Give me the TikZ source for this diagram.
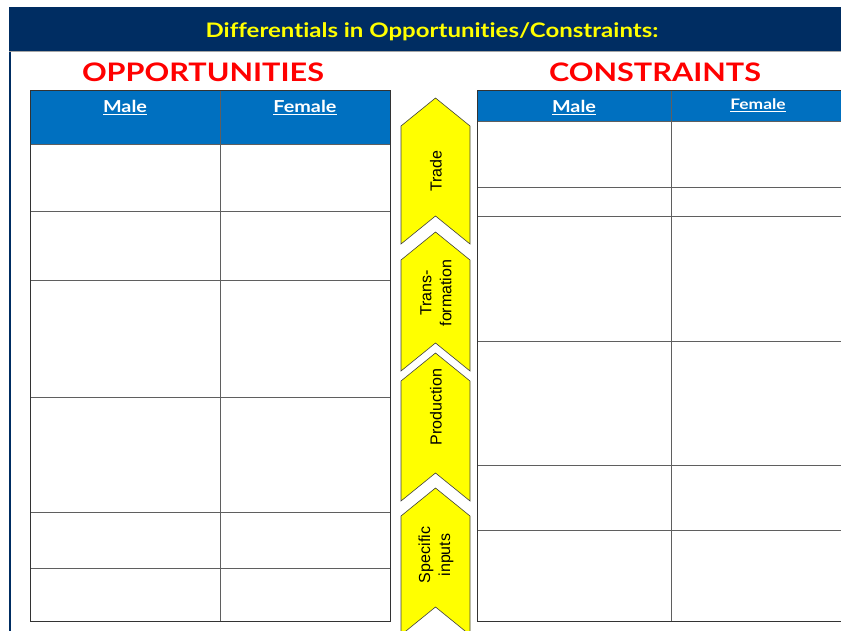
\documentclass[tikz,border=0pt]{standalone}
\usepackage{fontspec}
\setmainfont{Lato}
\newfontfamily\gillish[FakeStretch=1.2, Ligatures=NoCommon]{Lato}
\newfontfamily\arialfont{Liberation Sans}
\usetikzlibrary{positioning}

\definecolor{bandnavy}{RGB}{0,45,98}
\definecolor{hdrblue}{RGB}{0,112,192}
\definecolor{chevyellow}{RGB}{255,255,0}
\definecolor{gridgray}{RGB}{95,95,95}

\begin{document}
\begin{tikzpicture}[
        x=1pt, y=-1pt,
        title/.style={text=chevyellow, font=\gillish\bfseries\fontsize{20}{24}\selectfont},
        side/.style={text=red, font=\gillish\bfseries\fontsize{25.5}{28}\selectfont},
        hdr/.style={text=white, font=\gillish\bfseries\fontsize{16.5}{18}\selectfont},
        grid/.style={draw=gridgray, line width=1pt},
        chevron/.style={fill=chevyellow, draw=black!75, line width=0.6pt},
        steplabel/.style={rotate=90, align=center, font=\arialfont\fontsize{16}{20}\selectfont}
    ]
    \useasboundingbox (0,0) rectangle (841,631);
    \clip (0,0) rectangle (841,631);

    % Frame
    \fill[bandnavy] (9,7) rectangle (845,51);
    \draw[gray!70, line width=1pt] (9,51.5) -- (845,51.5);
    \draw[bandnavy, line width=1.5pt] (10,52) -- (10,640);
    \node[title] (title) at (432,32) {Differentials in Opportunities/Constraints:};

    % Headings
    \node[side] (opp) at (203,72) {OPPORTUNITIES};
    \node[side] (con) at (655,72) {CONSTRAINTS};

    % Opportunities table
    \fill[hdrblue] (30,91) rectangle (390,145);
    \foreach \y in {145,212,281,397,512,568}
        \draw[grid] (30,\y) -- (390,\y);
    \draw[grid] (220,91) -- (220,621);
    \draw[grid, draw=black!80] (30,91) rectangle (390,621);
    \node[hdr] (oppmale) at (125,107.5) {\underline{Male}};
    \node[hdr] (oppfemale) at (305,107.5) {\underline{Female}};

    % Constraints table
    \fill[hdrblue] (477,91) rectangle (845,122);
    \foreach \y in {122,188,217,341,465,530}
        \draw[grid] (477,\y) -- (845,\y);
    \draw[grid] (671,91) -- (671,621);
    \draw[grid, draw=black!80] (845,91) -- (477,91) -- (477,621) -- (845,621);
    \node[hdr] (conmale) at (574,107.5) {\underline{Male}};
    \node[hdr, font=\gillish\bfseries\fontsize{14.5}{16}\selectfont] (confemale) at (758,105) {\underline{Female}};

    % Chevrons
    \foreach \a/\n/\t/\nm/\txt in {98/216/171/trade/Trade, 232/343/293/trans/{Trans-\\formation},
                                   353/473/407/prod/Production, 488/607/555/spec/{Specific\\inputs}} {
        \filldraw[chevron] (401,\a+28) -- (435.5,\a) -- (470,\a+28) -- (470,\n+28)
            -- (435.5,\n) -- (401,\n+28) -- cycle;
        \node[steplabel] (\nm) at (436,\t) {\txt};
    }

\end{tikzpicture}
\end{document}
